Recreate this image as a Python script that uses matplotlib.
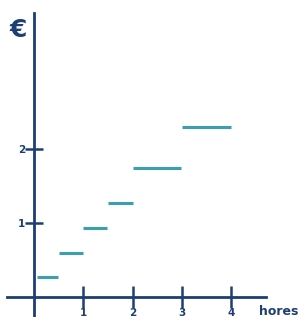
import matplotlib
matplotlib.use("Agg")
import matplotlib.pyplot as plt

# Price steps (hours -> euros)
starts = [0.06, 0.5, 1.0, 1.5, 2.0, 3.0]
ends = [0.49, 1.0, 1.48, 2.0, 2.98, 4.0]
prices = [0.27, 0.6, 0.94, 1.27, 1.74, 2.3]
x_ticks = [1, 2, 3, 4]
y_ticks = [1, 2]

navy = "#1d3f73"
teal = "#3a9fae"

fig = plt.figure(figsize=(3.0, 3.17), dpi=100)
ax = fig.add_axes([0, 0, 1, 1])
ax.set_xlim(-0.69, 5.40)
ax.set_ylim(-0.27, 4.02)

ax.hlines(prices, starts, ends, color=teal, linewidth=2.2)

for side in ["top", "right"]:
    ax.spines[side].set_visible(False)
ax.spines["left"].set_position(("data", 0))
ax.spines["bottom"].set_position(("data", 0))
ax.spines["left"].set_bounds(-0.3, 3.85)
ax.spines["bottom"].set_bounds(-0.55, 4.7)
for side in ["left", "bottom"]:
    ax.spines[side].set_color(navy)
    ax.spines[side].set_linewidth(2)

ax.set_xticks(x_ticks)
ax.set_yticks(y_ticks)
ax.tick_params(direction="inout", width=1.8, color=navy,
               labelcolor=navy, labelsize=7.5)
ax.tick_params(axis="x", length=16, pad=0)
ax.tick_params(axis="y", length=13, pad=0)
for lab in ax.get_xticklabels() + ax.get_yticklabels():
    lab.set_fontweight("bold")

ax.text(-0.32, 3.62, "€", fontsize=18, fontweight="bold", color=navy,
        ha="center", va="center")
ax.text(4.56, -0.2, "hores", fontsize=9, fontweight="bold", color=navy,
        ha="left", va="center")

fig.savefig("out.png", dpi=100)
